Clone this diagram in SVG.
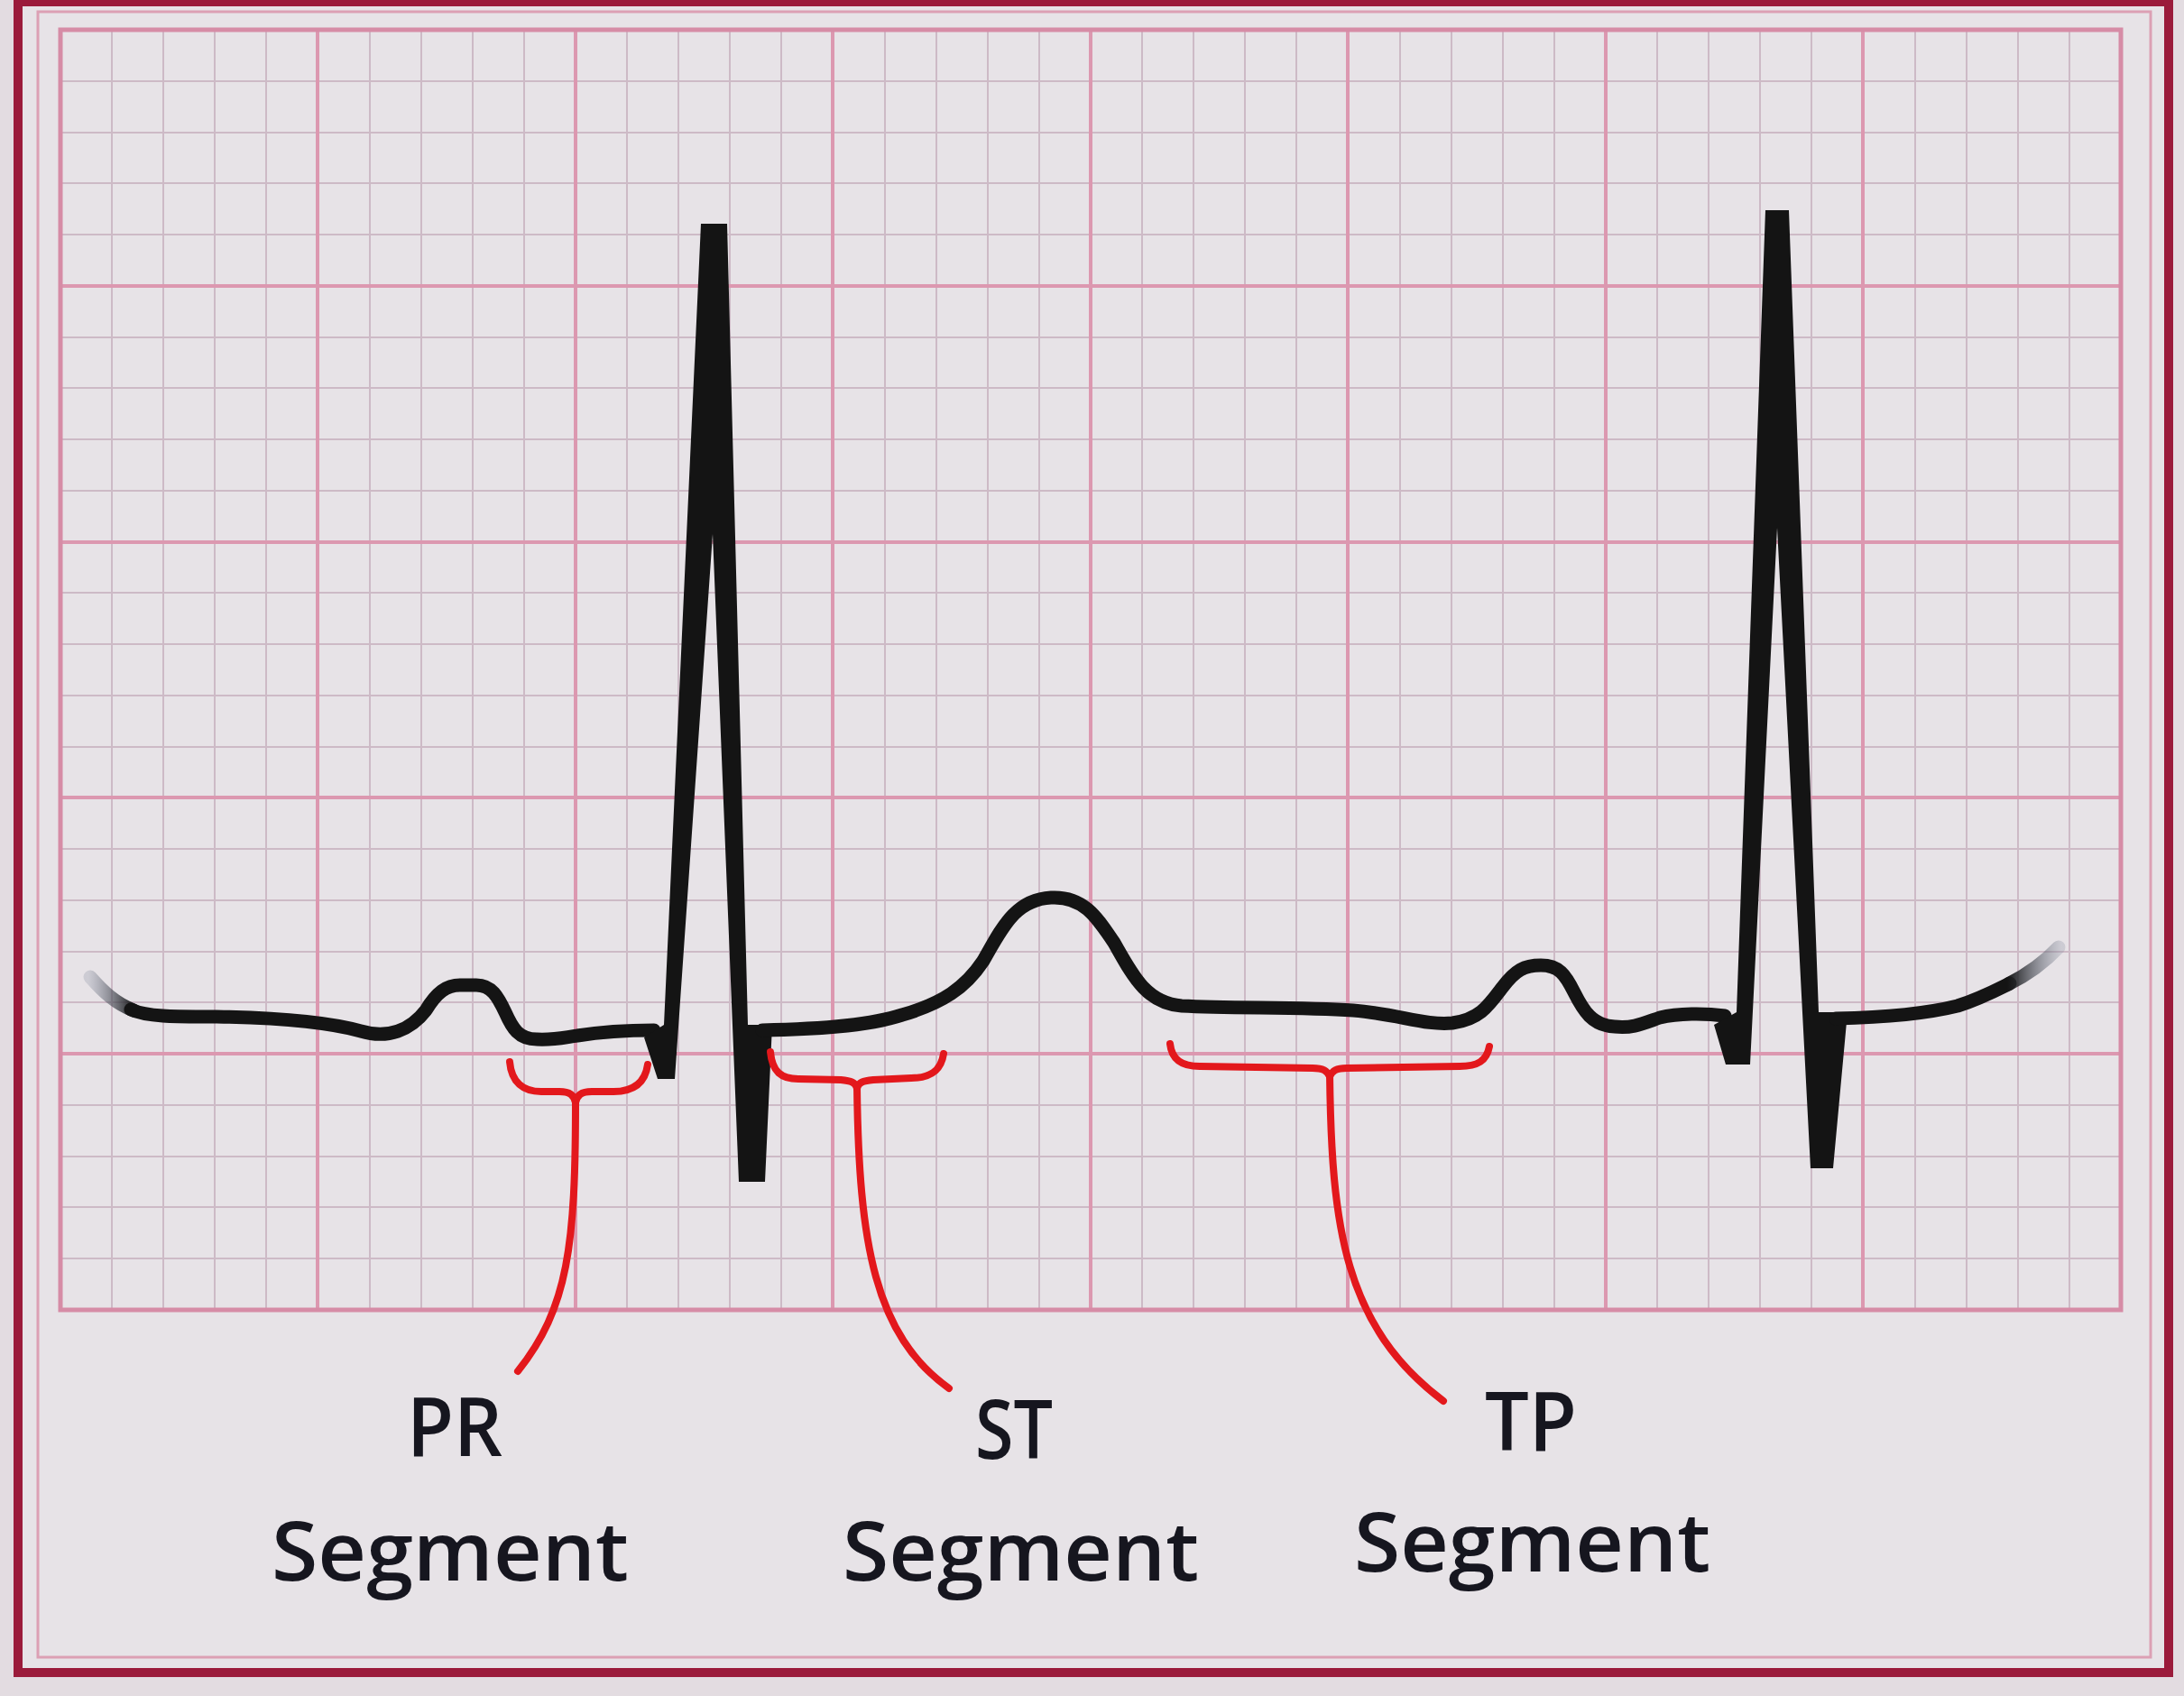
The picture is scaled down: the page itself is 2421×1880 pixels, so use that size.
<svg xmlns="http://www.w3.org/2000/svg" width="2421" height="1880" viewBox="0 0 2421 1880">
<defs>
<style>
.minor{stroke:#cdbac6;stroke-width:2;fill:none}
.major{stroke:#dc98b0;stroke-width:4;fill:none}
.trace{stroke:#141414;stroke-width:15;fill:none;stroke-linecap:round;stroke-linejoin:round}
.spike{fill:#141414}
.br{stroke:#e3181c;stroke-width:8;fill:none;stroke-linecap:round;stroke-linejoin:round}
.lbl{font-family:"Open Sans","Liberation Sans",sans-serif;font-weight:600;font-size:90px;fill:#16161f}
</style>
<linearGradient id="fadeL" gradientUnits="userSpaceOnUse" x1="98" y1="0" x2="150" y2="0">
<stop offset="0" stop-color="#7d8598" stop-opacity="0.25"/>
<stop offset="1" stop-color="#141414" stop-opacity="1"/>
</linearGradient>
<linearGradient id="fadeR" gradientUnits="userSpaceOnUse" x1="2225" y1="0" x2="2285" y2="0">
<stop offset="0" stop-color="#141414" stop-opacity="1"/>
<stop offset="1" stop-color="#7d8598" stop-opacity="0.25"/>
</linearGradient>
</defs>
<rect x="0" y="0" width="2421" height="1880" fill="#e3dce1"/>
<g id="frame">
<rect x="20" y="2" width="2384" height="1852" fill="#e7e3e7" stroke="#9b1b3b" stroke-width="10"/>
<rect x="42" y="13" width="2342" height="1824" fill="none" stroke="#dca0b4" stroke-width="3"/>
</g>
<g id="grid">
<path class="minor" d="M124 33V1452M181 33V1452M238 33V1452M295 33V1452M410 33V1452M467 33V1452M524 33V1452M581 33V1452M695 33V1452M752 33V1452M809 33V1452M866 33V1452M981 33V1452M1038 33V1452M1095 33V1452M1152 33V1452M1266 33V1452M1323 33V1452M1380 33V1452M1437 33V1452M1552 33V1452M1609 33V1452M1666 33V1452M1723 33V1452M1837 33V1452M1894 33V1452M1951 33V1452M2008 33V1452M2123 33V1452M2180 33V1452M2237 33V1452M2294 33V1452"/>
<path class="minor" d="M67 90H2351M67 147H2351M67 203H2351M67 260H2351M67 374H2351M67 430H2351M67 487H2351M67 544H2351M67 657H2351M67 714H2351M67 771H2351M67 828H2351M67 941H2351M67 998H2351M67 1055H2351M67 1111H2351M67 1225H2351M67 1282H2351M67 1338H2351M67 1395H2351"/>
<path class="major" d="M352 33V1452M638 33V1452M923 33V1452M1209 33V1452M1494 33V1452M1780 33V1452M2065 33V1452M67 317H2351M67 601H2351M67 884H2351M67 1168H2351"/>
<rect x="67" y="33" width="2284" height="1419" fill="none" stroke="#d68ca6" stroke-width="5"/>
</g>
<g id="ecg-trace">
<path d="M100 1083 C115 1100,128 1112,148 1120" stroke="url(#fadeL)" stroke-width="15" fill="none" stroke-linecap="round"/>
<path class="trace" d="M145 1119 C165 1128,200 1127,240 1127 C300 1128,360 1132,400 1143 C430 1152,455 1142,472 1120 C484 1100,495 1092,510 1092 L528 1092 C545 1092,552 1105,560 1122 C568 1140,575 1152,595 1152 C615 1153,625 1150,640 1148 C665 1144,690 1142,725 1142"/>
<polygon class="spike" points="777,248 806,248 829,1136 856,1136 848,1310 819,1310 790,592 748,1196 729,1196 714,1150 736,1136"/>
<path class="trace" d="M845 1142 C900 1141,960 1138,1000 1125 C1045 1112,1070 1095,1090 1065 C1110 1030,1125 997,1165 995 C1200 993,1215 1015,1235 1045 C1255 1080,1270 1112,1310 1115 C1370 1118,1440 1116,1500 1120 C1550 1124,1580 1137,1610 1134 C1640 1130,1650 1115,1665 1095 C1680 1075,1690 1070,1708 1070 C1728 1070,1735 1080,1745 1100 C1755 1120,1765 1137,1790 1138 C1810 1140,1820 1135,1840 1128 C1860 1123,1890 1123,1912 1126"/>
<polygon class="spike" points="1957,233 1983,233 2016,1122 2048,1122 2032,1295 2007,1295 1970,585 1940,1180 1913,1180 1900,1136 1925,1122"/>
<path class="trace" d="M2035 1129 C2080 1128,2130 1125,2170 1115 C2195 1107,2212 1098,2228 1090"/>
<path d="M2226 1091 C2248 1080,2266 1067,2282 1050" stroke="url(#fadeR)" stroke-width="15" fill="none" stroke-linecap="round"/>
</g>
<g id="connectors">
<g id="pr-bracket">
<path class="br" d="M565 1177 C567 1200,580 1210,600 1210 L620 1210 C632 1210,636 1214,638 1222"/>
<path class="br" d="M718 1180 C715 1202,700 1210,680 1210 L656 1210 C644 1210,640 1214,638 1222"/>
<path class="br" d="M638 1220 C638 1380,630 1450,574 1520"/>
</g>
<g id="st-bracket">
<path class="br" d="M854 1166 C856 1188,866 1196,885 1196 L932 1197 C944 1198,948 1200,950 1206"/>
<path class="br" d="M1046 1168 C1043 1188,1030 1195,1010 1195 L968 1197 C956 1198,952 1200,950 1206"/>
<path class="br" d="M950 1204 C952 1380,970 1480,1052 1539"/>
</g>
<g id="tp-bracket">
<path class="br" d="M1297 1157 C1299 1175,1310 1182,1330 1182 L1455 1184 C1467 1184,1471 1187,1474 1193"/>
<path class="br" d="M1651 1160 C1648 1176,1638 1182,1618 1182 L1493 1184 C1481 1184,1477 1187,1474 1193"/>
<path class="br" d="M1474 1190 C1476 1360,1490 1470,1600 1553"/>
</g>
</g>
<g id="label-pr">
<text class="lbl" x="451" y="1614" textLength="106" lengthAdjust="spacingAndGlyphs">PR</text>
<text class="lbl" x="301" y="1752" textLength="396" lengthAdjust="spacingAndGlyphs">Segment</text>
</g>
<g id="label-st">
<text class="lbl" x="1081" y="1617" textLength="86" lengthAdjust="spacingAndGlyphs">ST</text>
<text class="lbl" x="934" y="1752" textLength="395" lengthAdjust="spacingAndGlyphs">Segment</text>
</g>
<g id="label-tp">
<text class="lbl" x="1646" y="1608" textLength="102" lengthAdjust="spacingAndGlyphs">TP</text>
<text class="lbl" x="1501" y="1742" textLength="395" lengthAdjust="spacingAndGlyphs">Segment</text>
</g>
</svg>
